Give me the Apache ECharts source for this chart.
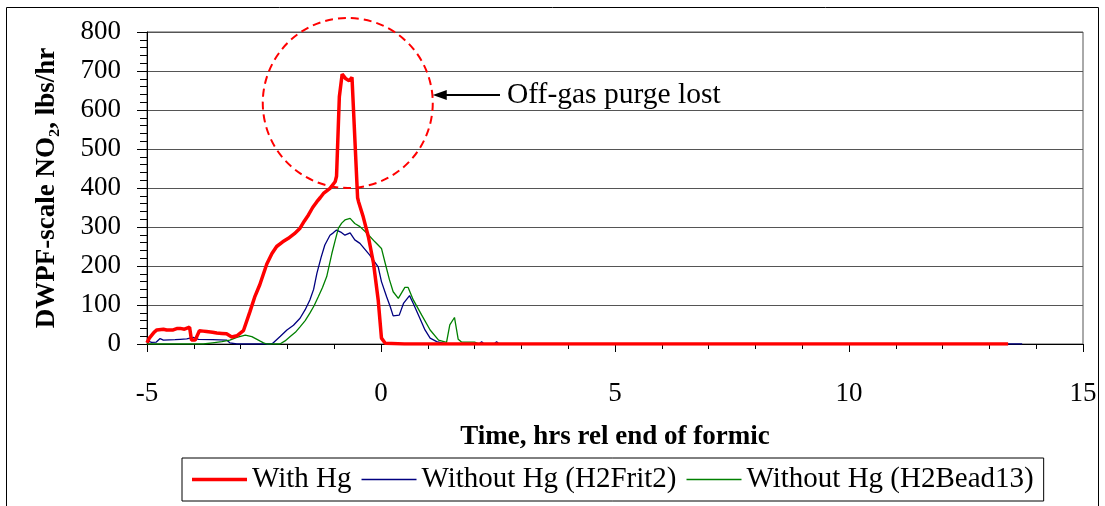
<!DOCTYPE html>
<html><head><meta charset="utf-8">
<script src="https://cdn.jsdelivr.net/npm/echarts@6/dist/echarts.min.js"></script>
<style>html,body{margin:0;padding:0;background:#fff}#c{width:1105px;height:506px}</style>
</head><body><div id="c"></div>
<script>
var xTicks = [-5, 0, 5, 10, 15];
var yTicks = [0, 100, 200, 300, 400, 500, 600, 700, 800];
var seriesNames = ['With Hg', 'Without Hg (H2Frit2)', 'Without Hg (H2Bead13)'];

var withHg = [
[-5.0,3],[-4.95,15],[-4.85,30],[-4.79,36],[-4.65,38],[-4.58,36],[-4.44,36],[-4.35,40],[-4.29,40],[-4.2,38],[-4.09,43],[-4.05,10],[-3.97,10],[-3.88,34],[-3.8,33],[-3.73,32],[-3.6,30],[-3.51,28],[-3.4,27],[-3.3,26],[-3.19,18],[-3.08,21],[-2.94,34],[-2.80,83],[-2.70,120],[-2.59,152],[-2.44,205],[-2.33,232],[-2.23,250],[-2.1,262],[-1.98,271],[-1.85,283],[-1.73,297],[-1.64,315],[-1.55,331],[-1.46,350],[-1.37,365],[-1.30,375],[-1.23,386],[-1.09,399],[-0.98,416],[-0.95,430],[-0.89,634],[-0.83,692],[-0.75,680],[-0.68,675],[-0.62,684],[-0.50,375],[-0.48,365],[-0.38,326],[-0.27,275],[-0.16,207],[-0.06,113],[0.01,15],[0.09,2],[0.5,0],[13.4,0]
];
var withoutFrit = [
[-5.0,8],[-4.9,4],[-4.8,5],[-4.72,14],[-4.65,10],[-4.4,11],[-4.29,12],[-4.15,13],[-4.01,17],[-3.90,12],[-3.6,11],[-3.30,10],[-3.23,3],[-3.08,0],[-2.35,0],[-2.30,3],[-2.15,20],[-2.01,36],[-1.87,48],[-1.73,66],[-1.62,88],[-1.52,113],[-1.44,140],[-1.37,181],[-1.28,222],[-1.20,254],[-1.09,279],[-1.02,285],[-0.95,292],[-0.86,287],[-0.77,279],[-0.66,285],[-0.56,267],[-0.45,258],[-0.24,228],[-0.06,198],[0.01,160],[0.12,121],[0.2,95],[0.26,72],[0.39,74],[0.48,104],[0.61,124],[0.69,104],[0.83,66],[0.94,36],[1.05,15],[1.19,6],[1.4,0],[2.1,0],[2.15,6],[2.2,0],[2.42,0],[2.47,6],[2.52,0],[13.7,0]
];
var withoutBead = [
[-5.0,0],[-3.8,0],[-3.6,3],[-3.4,6],[-3.23,10],[-3.08,17],[-2.9,23],[-2.76,19],[-2.59,8],[-2.51,3],[-2.44,0],[-2.16,0],[-2.05,8],[-1.94,19],[-1.83,30],[-1.73,44],[-1.62,60],[-1.52,79],[-1.43,98],[-1.34,121],[-1.25,145],[-1.16,173],[-1.05,232],[-0.98,265],[-0.91,297],[-0.84,310],[-0.77,318],[-0.66,322],[-0.56,309],[-0.45,301],[-0.30,284],[-0.13,262],[0.01,245],[0.09,207],[0.18,165],[0.26,134],[0.37,117],[0.51,145],[0.58,145],[0.69,113],[0.87,74],[1.05,36],[1.23,10],[1.40,4],[1.47,49],[1.57,68],[1.65,12],[1.72,5],[2.0,5],[2.1,0],[13.4,0]
];
var annotation = {text: 'Off-gas purge lost', circleCenter: [-0.71, 618]};

var FONT = 'Liberation Serif, Times New Roman, serif';
var chart = echarts.init(document.getElementById('c'), null, {renderer: 'canvas'});
function lineIcon(h) {
  var y0 = (14 - h) / 2, y1 = y0 + h;
  return 'path://M0,0 M0,14 M0,' + y0 + ' L55,' + y0 + ' L55,' + y1 + ' L0,' + y1 + ' Z';
}
var option = {
  animation: false,
  backgroundColor: '#fff',
  grid: {left: 147, right: 22, top: 32, bottom: 162, show: true, borderColor: '#555', borderWidth: 1, backgroundColor: 'transparent'},
  xAxis: {
    type: 'value', min: xTicks[0], max: xTicks[xTicks.length - 1], interval: 5,
    name: 'Time, hrs rel end of formic', nameLocation: 'middle', nameGap: 80,
    nameTextStyle: {fontFamily: FONT, fontSize: 27, fontWeight: 'bold', color: '#000'},
    axisLine: {show: true, onZero: false, lineStyle: {color: '#000', width: 1}},
    axisTick: {show: true, inside: false, length: 8, lineStyle: {color: '#000'}},
    minorTick: {show: true, splitNumber: 5, length: 5, lineStyle: {color: '#000'}},
    axisLabel: {fontFamily: FONT, fontSize: 27, color: '#000', margin: 36,
      formatter: function (v) { return xTicks.indexOf(v) >= 0 ? String(v) : ''; }},
    splitLine: {show: false}
  },
  yAxis: {
    type: 'value', min: yTicks[0], max: yTicks[yTicks.length - 1], interval: 100,
    name: 'DWPF-scale NO\u2082, lbs/hr', nameLocation: 'middle', nameGap: 86, nameRotate: 90,
    nameTextStyle: {fontFamily: FONT, fontSize: 27, fontWeight: 'bold', color: '#000'},
    axisLine: {show: true, onZero: false, lineStyle: {color: '#000', width: 1}},
    axisTick: {show: true, inside: false, length: 10, lineStyle: {color: '#000'}},
    minorTick: {show: true, splitNumber: 5, length: 7, lineStyle: {color: '#000'}},
    axisLabel: {fontFamily: FONT, fontSize: 27, color: '#000', margin: 26},
    splitLine: {show: true, lineStyle: {color: '#555', width: 1}}
  },
  legend: {
    left: 182, top: 458, orient: 'horizontal',
    data: [
      {name: seriesNames[0], icon: lineIcon(3.5)},
      {name: seriesNames[1], icon: lineIcon(1.4)},
      {name: seriesNames[2], icon: lineIcon(1.4)}
    ],
    itemWidth: 55, itemHeight: 14, itemGap: 10,
    padding: [7, 10], borderColor: '#000', borderWidth: 1,
    textStyle: {fontFamily: FONT, fontSize: 29, color: '#000', padding: [0, 0, 0, 0]}
  },
  series: [
    {name: seriesNames[0], type: 'line', data: withHg, showSymbol: false, symbol: 'none', z: 5,
     lineStyle: {color: '#ff0000', width: 3.5}, itemStyle: {color: '#ff0000'}},
    {name: seriesNames[1], type: 'line', data: withoutFrit, showSymbol: false, symbol: 'none', z: 3,
     lineStyle: {color: '#000080', width: 1.3}, itemStyle: {color: '#000080'}},
    {name: seriesNames[2], type: 'line', data: withoutBead, showSymbol: false, symbol: 'none', z: 4,
     lineStyle: {color: '#008000', width: 1.3}, itemStyle: {color: '#008000'}}
  ]
};
chart.setOption(option);

var c = chart.convertToPixel({gridIndex: 0}, annotation.circleCenter);
var r = 85;
var arrowTipX = c[0] + r;
var arrowY = 95;
var textX = 507;
chart.setOption({
  graphic: [
    {type: 'rect', shape: {x: 6.5, y: 7.5, width: 1092, height: 520}, style: {fill: 'none', stroke: '#000', lineWidth: 1}, silent: true, z: 0},
    {type: 'circle', shape: {cx: c[0], cy: c[1], r: r}, style: {fill: 'none', stroke: '#ff0000', lineWidth: 2, lineDash: [8, 5]}, z: 10},
    {type: 'line', shape: {x1: arrowTipX + 12, y1: arrowY, x2: 500, y2: arrowY}, style: {stroke: '#000', lineWidth: 2}, z: 10},
    {type: 'polygon', shape: {points: [[arrowTipX, arrowY], [arrowTipX + 14, arrowY - 5], [arrowTipX + 14, arrowY + 5]]}, style: {fill: '#000'}, z: 10},
    {type: 'text', x: textX, y: arrowY, style: {text: annotation.text, fontFamily: FONT, fontSize: 29.5, fill: '#000', verticalAlign: 'middle', align: 'left'}, z: 10}
  ]
});
</script></body></html>
